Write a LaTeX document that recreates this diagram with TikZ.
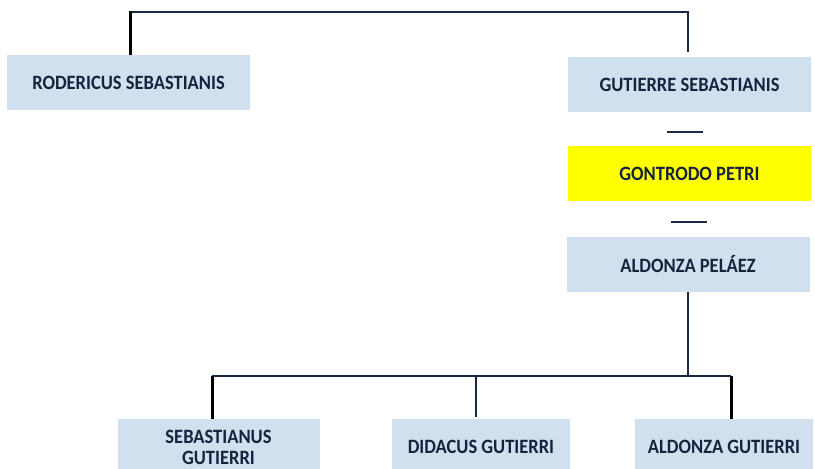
\documentclass[tikz,border=0pt]{standalone}
\usepackage{fontspec}
\setmainfont{Carlito}
\definecolor{boxblue}{HTML}{D0E0EE}
\definecolor{navy}{HTML}{16233D}
\definecolor{linec}{HTML}{1B2A44}
\definecolor{yel}{HTML}{FFFF00}
\begin{document}
\begin{tikzpicture}[x=1pt,y=-1pt,
  person/.style={fill=boxblue, draw=none, inner sep=0pt, text=navy,
     font=\fontsize{18.5}{20}\selectfont\bfseries, align=center},
  conn/.style={draw=linec, line width=1.8pt},
  thickconn/.style={draw=black, line width=3pt},
  spouse/.style={draw=linec, line width=1.8pt}]
\useasboundingbox (0,0) rectangle (815,469);
\node[person, minimum width=243pt, minimum height=55pt] (rod) at (128.5,82.5) {\scalebox{1}[1.1]{RODERICUS SEBASTIANIS}};
\node[person, minimum width=243pt, minimum height=55pt] (gut) at (689.5,84.5) {\scalebox{1}[1.1]{GUTIERRE SEBASTIANIS}};
\node[person, fill=yel, minimum width=243pt, minimum height=55pt] (gon) at (689.5,173.5) {\scalebox{1}[1.1]{GONTRODO PETRI}};
\node[person, minimum width=243pt, minimum height=55pt] (ald) at (688,264) {\scalebox{1}[1.1]{ALDONZA PELÁEZ}};
\node[person, minimum width=202pt, minimum height=56pt] (seb) at (218.5,447) {\scalebox{1}[1.1]{SEBASTIANUS}\\[1pt]\scalebox{1}[1.1]{GUTIERRI}};
\node[person, minimum width=178pt, minimum height=56pt] (did) at (481,447) {\scalebox{1}[1.1]{DIDACUS GUTIERRI}};
\node[person, minimum width=178pt, minimum height=56pt] (aldg) at (724,447) {\scalebox{1}[1.1]{ALDONZA GUTIERRI}};
\coordinate (tl) at (130,12);
\coordinate (tr) at (688,12);
\draw[conn] (tl) -- (tr) -- (688,52);
\draw[thickconn] (130,11) -- (130,55);
\coordinate (d1a) at (667,132);
\coordinate (d1b) at (703,132);
\draw[spouse] (d1a) -- (d1b);
\coordinate (d2a) at (671,222);
\coordinate (d2b) at (707,222);
\draw[spouse] (d2a) -- (d2b);
\coordinate (bj) at (688,376);
\draw[conn] (ald.south -| bj) -- (bj);
\coordinate (bl) at (212,376);
\coordinate (br) at (731,376);
\draw[conn] (bl) -- (br);
\draw[thickconn] (bl) -- (212,419);
\draw[thickconn] (br) -- (731,419);
\draw[conn] (476,376) -- (476,417);
\end{tikzpicture}
\end{document}
